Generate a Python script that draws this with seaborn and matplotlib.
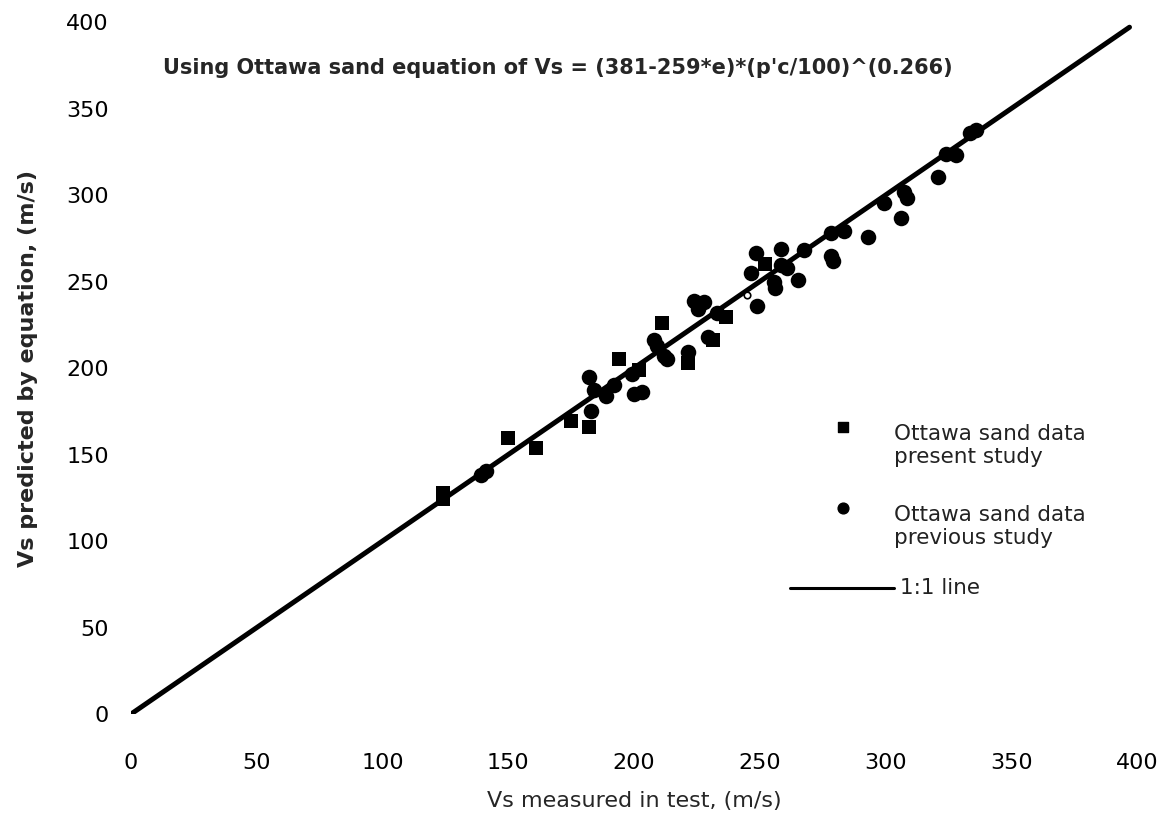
import matplotlib
matplotlib.use("Agg")
import matplotlib.pyplot as plt
import numpy as np
import pandas as pd
import seaborn as sns

# Ottawa sand, present study: measured vs predicted shear-wave velocity (m/s)
present_measured = [124, 124, 150, 161, 175, 182, 194, 202, 211, 221.5, 231.5, 236.5, 252]
present_predicted = [128, 124.5, 159.5, 154, 169.5, 166, 205, 199, 226, 203, 216, 229.5, 260]

# Ottawa sand, previous study
previous_measured = [139, 141, 182, 183, 184, 189, 192, 199, 200, 203, 208, 209, 212, 213,
                     221.5, 224, 225.5, 228, 229.5, 233, 249, 246.5, 248.5, 255.5, 256,
                     258.5, 258.5, 261, 265, 267.5, 278.5, 283.5, 278.5, 279, 293, 299.5,
                     306, 307.5, 308.5, 321, 324, 328, 333.5, 336]
previous_predicted = [138, 140.5, 195, 175, 187.5, 184, 190, 196.5, 185, 186, 216, 212.5,
                      207, 205, 209, 239, 234, 238, 218, 232, 236, 255, 266.5, 249.5, 246.5,
                      269, 259.5, 258, 251, 268, 278, 279, 265, 262, 276, 295.5, 287, 301.5,
                      298, 310.5, 324, 323, 336, 337.5]

# Faint open point on the line
open_measured = [245]
open_predicted = [242.5]

line_x = [0, 397]
line_y = [0, 397]
ticks = [0, 50, 100, 150, 200, 250, 300, 350, 400]

df = pd.DataFrame({
    "measured": present_measured + previous_measured,
    "predicted": present_predicted + previous_predicted,
    "study": ["present"] * len(present_measured) + ["previous"] * len(previous_measured),
})

sns.set_theme(style="white")
plt.rcParams["font.family"] = ["DejaVu Sans"]

fig = plt.figure(figsize=(11.68, 8.25), dpi=100)
ax = fig.add_axes([0.1122, 0.1345, 0.8613, 0.8388])

sns.lineplot(x=line_x, y=line_y, ax=ax, color="black", linewidth=3.6, zorder=2)
sns.scatterplot(data=df[df.study == "previous"], x="measured", y="predicted", ax=ax,
                marker="o", color="black", s=125, linewidth=0, zorder=3, legend=False)
sns.scatterplot(data=df[df.study == "present"], x="measured", y="predicted", ax=ax,
                marker="s", color="black", s=100, linewidth=0, zorder=3, legend=False)
ax.scatter(open_measured, open_predicted, s=22, facecolor="white", edgecolor="black",
           linewidth=1.2, zorder=4)

ax.set_xlim(0, 400)
ax.set_ylim(0, 400)
ax.set_xticks(ticks)
ax.set_yticks(ticks)
ax.set_xticklabels([str(t) for t in ticks])
ax.set_yticklabels([str(t) for t in ticks])
ax.tick_params(axis="both", length=0, labelsize=16, colors="black")
ax.tick_params(axis="x", pad=28)
ax.tick_params(axis="y", pad=16)
for sp in ax.spines.values():
    sp.set_visible(False)
ax.grid(False)

ax.set_xlabel("Vs measured in test, (m/s)", fontsize=16, labelpad=13)
ax.set_ylabel("Vs predicted by equation, (m/s)", fontsize=16, fontweight="bold",
              labelpad=20)

ax.text(0.032, 0.9335, "Using Ottawa sand equation of Vs = (381-259*e)*(p'c/100)^(0.266)",
        transform=ax.transAxes, fontsize=15, fontweight="bold",
        va="center", ha="left")

# Legend keys and labels
legend_color = "#222222"
ax.scatter([0.7078], [0.4147], transform=ax.transAxes, marker="s", s=55, color="black",
           clip_on=False)
ax.text(0.758, 0.405, "Ottawa sand data", transform=ax.transAxes,
        fontsize=15.5, va="center", ha="left", color=legend_color)
ax.text(0.758, 0.372, "present study", transform=ax.transAxes,
        fontsize=15.5, va="center", ha="left", color=legend_color)
ax.scatter([0.7078], [0.2977], transform=ax.transAxes, marker="o", s=60, color="black",
           clip_on=False)
ax.text(0.758, 0.288, "Ottawa sand data", transform=ax.transAxes,
        fontsize=15.5, va="center", ha="left", color=legend_color)
ax.text(0.758, 0.255, "previous study", transform=ax.transAxes,
        fontsize=15.5, va="center", ha="left", color=legend_color)
ax.plot([0.655, 0.758], [0.182, 0.182], transform=ax.transAxes, color="black",
        linewidth=2.2)
ax.text(0.764, 0.182, "1:1 line", transform=ax.transAxes, fontsize=15.5,
        va="center", ha="left", color=legend_color)

fig.savefig("out.png", dpi=100)
